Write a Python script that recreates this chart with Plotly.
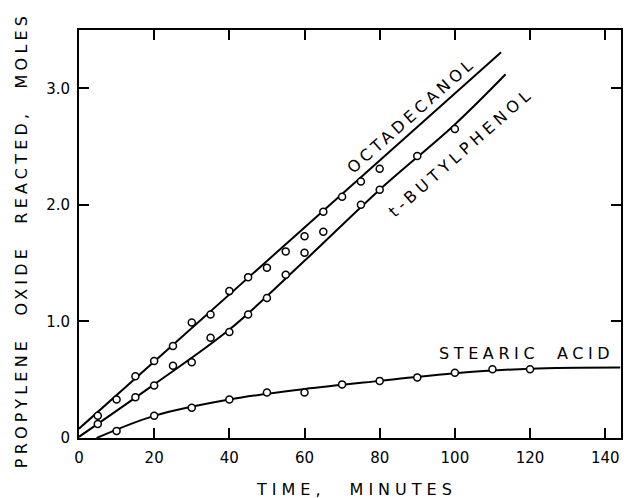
import plotly.graph_objects as go

# ---- data ----
oct_t = [5, 10, 15, 20, 25, 30, 35, 40, 45, 50, 55, 60, 65, 70, 75, 80]
oct_y = [0.19, 0.33, 0.53, 0.66, 0.79, 0.99, 1.06, 1.26, 1.38, 1.46, 1.60, 1.73, 1.94, 2.07, 2.20, 2.31]
oct_line_t = [0, 112.3]
oct_line_y = [0.08, 3.31]

but_t = [5, 15, 20, 25, 30, 35, 40, 45, 50, 55, 60, 65, 75, 80, 90, 100]
but_y = [0.12, 0.35, 0.45, 0.62, 0.65, 0.86, 0.91, 1.06, 1.20, 1.40, 1.59, 1.77, 2.00, 2.13, 2.42, 2.65]
but_line_t = [0, 20, 40, 60, 80, 100, 113.5]
but_line_y = [0.01, 0.46, 0.93, 1.52, 2.13, 2.69, 3.12]

ste_t = [10, 20, 30, 40, 50, 60, 70, 80, 90, 100, 110, 120]
ste_y = [0.06, 0.19, 0.26, 0.33, 0.39, 0.39, 0.46, 0.49, 0.52, 0.56, 0.59, 0.59]
ste_line_t = [4.7, 20, 40, 60, 80, 100, 120, 144]
ste_line_y = [0.0, 0.19, 0.33, 0.42, 0.49, 0.555, 0.595, 0.605]

x_ticks = [0, 20, 40, 60, 80, 100, 120, 140]
y_ticks = [0, 1, 2, 3]
y_ticktext = ["0", "1.0", "2.0", "3.0"]

FONT = "DejaVu Sans"
W, H = 624, 498
L, T = 79, 30
PW, PH = 544, 408

fig = go.Figure()

def add_series(lt, ly, pt, py, smooth=False):
    fig.add_trace(go.Scatter(x=lt, y=ly, mode="lines",
                             line=dict(color="black", width=2,
                                       shape="spline" if smooth else "linear",
                                       smoothing=1.0),
                             hoverinfo="skip", showlegend=False))
    fig.add_trace(go.Scatter(x=pt, y=py, mode="markers",
                             marker=dict(symbol="circle", size=7, color="white",
                                         line=dict(color="black", width=1.5)),
                             showlegend=False))

add_series(oct_line_t, oct_line_y, oct_t, oct_y)
add_series(but_line_t, but_line_y, but_t, but_y, smooth=True)
add_series(ste_line_t, ste_line_y, ste_t, ste_y, smooth=True)

axis_common = dict(showline=True, linecolor="black", linewidth=2, mirror="ticks",
                   ticks="inside", ticklen=10, tickwidth=1.5, tickcolor="black",
                   showgrid=False, zeroline=False,
                   tickfont=dict(family=FONT, size=15, color="black"))

fig.update_xaxes(range=[0, 144.2], tickvals=x_ticks, ticklabelstandoff=5, **axis_common)
fig.update_yaxes(range=[0, 3.5], tickvals=y_ticks, ticktext=y_ticktext,
                 ticklabelstandoff=4, **axis_common)

def spaced(txt, ls, ws=0):
    return f'<span style="letter-spacing:{ls}px;word-spacing:{ws}px">{txt}</span>'

def px_x(p):  # page pixel -> paper x
    return (p - L) / PW

def px_y(p):  # page pixel -> paper y
    return (T + PH - p) / PH

annos = [
    dict(x=88.4, y=2.763, xref="x", yref="y", text=spaced("OCTADECANOL", 4),
         textangle=-41.6, font=dict(family=FONT, size=16, color="black")),
    dict(x=101.6, y=2.449, xref="x", yref="y", text=spaced("t-BUTYLPHENOL", 4.5),
         textangle=-41.3, font=dict(family=FONT, size=16, color="black")),
    dict(x=119.1, y=0.729, xref="x", yref="y", text=spaced("STEARIC ACID", 4.6, 8),
         font=dict(family=FONT, size=16, color="black")),
    dict(x=px_x(357.7), y=px_y(489), xref="paper", yref="paper",
         text=spaced("TIME, MINUTES", 5, 14),
         font=dict(family=FONT, size=16, color="black")),
    dict(x=px_x(22), y=px_y(240), xref="paper", yref="paper",
         text=spaced("PROPYLENE OXIDE REACTED, MOLES", 4.2, 12), textangle=-90,
         font=dict(family=FONT, size=16, color="black")),
]
for a in annos:
    a.update(showarrow=False, xanchor="center", yanchor="middle")
    fig.add_annotation(**a)

fig.update_layout(width=W, height=H,
                  margin=dict(l=L, r=W - L - PW, t=T, b=H - T - PH),
                  plot_bgcolor="white", paper_bgcolor="white",
                  font=dict(family=FONT, color="black"))

fig.write_html("out.html",
               config={"displayModeBar": False},
               post_script="document.body.style.margin='0px';"
                           "document.body.style.overflow='hidden';")
